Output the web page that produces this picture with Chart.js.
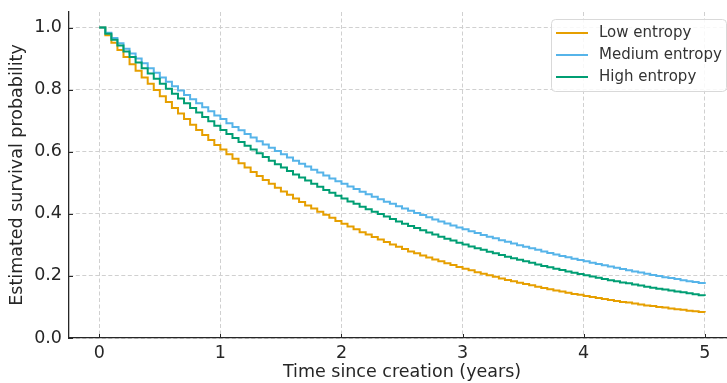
<!DOCTYPE html>
<html>
<head>
<meta charset="utf-8">
<script src="https://cdn.jsdelivr.net/npm/chart.js@4/dist/chart.umd.min.js"></script>
<style>
  html, body { margin: 0; padding: 0; background: #fff; overflow: hidden; }
  #wrap { width: 745px; height: 383px; }
</style>
</head>
<body>
<div id="wrap"><canvas id="chart" width="745" height="383"></canvas></div>
<script>
// time points (years), one step every 0.05
const times = [0,0.05,0.1,0.15,0.2,0.25,0.3,0.35,0.4,0.45,
  0.5,0.55,0.6,0.65,0.7,0.75,0.8,0.85,0.9,0.95,
  1,1.05,1.1,1.15,1.2,1.25,1.3,1.35,1.4,1.45,
  1.5,1.55,1.6,1.65,1.7,1.75,1.8,1.85,1.9,1.95,
  2,2.05,2.1,2.15,2.2,2.25,2.3,2.35,2.4,2.45,
  2.5,2.55,2.6,2.65,2.7,2.75,2.8,2.85,2.9,2.95,
  3,3.05,3.1,3.15,3.2,3.25,3.3,3.35,3.4,3.45,
  3.5,3.55,3.6,3.65,3.7,3.75,3.8,3.85,3.9,3.95,
  4,4.05,4.1,4.15,4.2,4.25,4.3,4.35,4.4,4.45,
  4.5,4.55,4.6,4.65,4.7,4.75,4.8,4.85,4.9,4.95,
  5];

const lowEntropy = [1.000,0.975,0.951,0.928,0.905,0.882,0.861,0.839,0.819,0.799,
  0.779,0.760,0.741,0.723,0.705,0.687,0.670,0.654,0.638,0.622,
  0.607,0.592,0.577,0.563,0.549,0.535,0.522,0.509,0.497,0.484,
  0.472,0.461,0.449,0.438,0.427,0.417,0.407,0.397,0.387,0.377,
  0.368,0.359,0.350,0.341,0.333,0.325,0.317,0.309,0.301,0.294,
  0.287,0.279,0.273,0.266,0.259,0.253,0.247,0.241,0.235,0.229,
  0.223,0.218,0.212,0.207,0.202,0.197,0.192,0.187,0.183,0.178,
  0.174,0.170,0.165,0.161,0.157,0.153,0.150,0.146,0.142,0.139,
  0.135,0.132,0.129,0.126,0.122,0.119,0.116,0.114,0.111,0.108,
  0.105,0.103,0.100,0.098,0.095,0.093,0.091,0.088,0.086,0.084,
  0.082];

const mediumEntropy = [1.000,0.983,0.966,0.949,0.932,0.916,0.900,0.885,0.869,0.854,
  0.839,0.825,0.811,0.797,0.783,0.769,0.756,0.743,0.730,0.717,
  0.705,0.692,0.680,0.669,0.657,0.646,0.634,0.623,0.613,0.602,
  0.592,0.581,0.571,0.561,0.552,0.542,0.533,0.523,0.514,0.505,
  0.497,0.488,0.480,0.471,0.463,0.455,0.447,0.439,0.432,0.424,
  0.417,0.410,0.403,0.396,0.389,0.382,0.375,0.369,0.362,0.356,
  0.350,0.344,0.338,0.332,0.326,0.321,0.315,0.310,0.304,0.299,
  0.294,0.289,0.284,0.279,0.274,0.269,0.264,0.260,0.255,0.251,
  0.247,0.242,0.238,0.234,0.230,0.226,0.222,0.218,0.214,0.211,
  0.207,0.203,0.200,0.196,0.193,0.190,0.186,0.183,0.180,0.177,
  0.174];

const highEntropy = [1.000,0.980,0.961,0.942,0.923,0.905,0.887,0.869,0.852,0.835,
  0.819,0.803,0.787,0.771,0.756,0.741,0.726,0.712,0.698,0.684,
  0.670,0.657,0.644,0.631,0.619,0.607,0.595,0.583,0.571,0.560,
  0.549,0.538,0.527,0.517,0.507,0.497,0.487,0.477,0.468,0.458,
  0.449,0.440,0.432,0.423,0.415,0.407,0.399,0.391,0.383,0.375,
  0.368,0.361,0.354,0.347,0.340,0.333,0.326,0.320,0.314,0.307,
  0.301,0.295,0.289,0.284,0.278,0.273,0.267,0.262,0.257,0.252,
  0.247,0.242,0.237,0.232,0.228,0.223,0.219,0.214,0.210,0.206,
  0.202,0.198,0.194,0.190,0.186,0.183,0.179,0.176,0.172,0.169,
  0.165,0.162,0.159,0.156,0.153,0.150,0.147,0.144,0.141,0.138,
  0.135];

const seriesNames = ['Low entropy', 'Medium entropy', 'High entropy'];
const xTicks = [0, 1, 2, 3, 4, 5];
const yTicks = [0, 0.2, 0.4, 0.6, 0.8, 1.0];

const colors = ['#E69F00', '#56B4E9', '#009E73'];
const textColor = '#262626';
const fontFamily = '"DejaVu Sans", sans-serif';

function toPoints(values) {
    return values.map((v, i) => ({x: times[i], y: v}));
}

function makeDataset(i, values) {
    return {
        label: seriesNames[i],
        data: toPoints(values),
        borderColor: colors[i],
        backgroundColor: colors[i],
        borderWidth: 2,
        pointRadius: 0,
        stepped: 'before',   // hold the value until the next time point
        fill: false,
        order: 2 - i         // later series drawn on top, like the original
    };
}

// small inward tick marks plus the boxed legend in the top right
const decorations = {
    id: 'decorations',
    afterDraw(chart) {
        const ctx = chart.ctx;
        const area = chart.chartArea;
        const xs = chart.scales.x, ys = chart.scales.y;
        ctx.save();
        ctx.strokeStyle = textColor;
        ctx.lineWidth = 1;
        ctx.beginPath();
        xTicks.forEach(v => {
            const px = Math.round(xs.getPixelForValue(v)) + 0.5;
            ctx.moveTo(px, area.bottom);
            ctx.lineTo(px, area.bottom - 4);
        });
        yTicks.forEach(v => {
            const py = Math.round(ys.getPixelForValue(v)) + 0.5;
            ctx.moveTo(area.left, py);
            ctx.lineTo(area.left + 4, py);
        });
        ctx.stroke();

        // legend box
        const bx = 551.5, by = 19.5, bw = 175, bh = 72;
        ctx.beginPath();
        ctx.roundRect(bx, by, bw, bh, 4);
        ctx.fillStyle = 'rgba(255,255,255,0.85)';
        ctx.fill();
        ctx.strokeStyle = '#d9d9d9';
        ctx.stroke();

        ctx.font = '15px ' + fontFamily;
        ctx.textBaseline = 'middle';
        ctx.textAlign = 'left';
        seriesNames.forEach((name, i) => {
            const ry = 33 + i * 22;
            ctx.strokeStyle = colors[i];
            ctx.lineWidth = 2;
            ctx.beginPath();
            ctx.moveTo(556, ry);
            ctx.lineTo(588, ry);
            ctx.stroke();
            ctx.fillStyle = '#333';
            ctx.fillText(name, 599, ry);
        });
        ctx.restore();
    }
};

const gridStyle = {
    color: '#d0d0d0',
    lineWidth: 1,
    drawTicks: false
};

new Chart(document.getElementById('chart').getContext('2d'), {
    type: 'line',
    data: {
        datasets: [
            makeDataset(0, lowEntropy),
            makeDataset(1, mediumEntropy),
            makeDataset(2, highEntropy)
        ]
    },
    options: {
        responsive: false,
        animation: false,
        devicePixelRatio: 1,
        layout: {padding: {top: 12, right: 10, left: 0, bottom: 0}},
        plugins: {
            legend: {display: false},
            tooltip: {enabled: false}
        },
        scales: {
            x: {
                type: 'linear',
                min: -0.25,
                max: 5.25,
                afterBuildTicks: s => { s.ticks = xTicks.map(v => ({value: v})); },
                afterFit: s => { s.height = 45; s.paddingLeft = 0; s.paddingRight = 0; },
                grid: gridStyle,
                border: {display: true, color: textColor, width: 1.3, dash: [4, 2.5]},
                ticks: {
                    color: textColor,
                    font: {family: fontFamily, size: 17.5},
                    padding: 5,
                    maxRotation: 0,
                    callback: v => String(v)
                },
                title: {
                    display: true,
                    text: 'Time since creation (years)',
                    color: textColor,
                    font: {family: fontFamily, size: 17.5},
                    padding: {top: 0, bottom: 0}
                }
            },
            y: {
                min: 0,
                max: 1.05,
                afterBuildTicks: s => { s.ticks = yTicks.map(v => ({value: v})); },
                afterFit: s => { s.width = 69; s.paddingTop = 0; s.paddingBottom = 0; },
                grid: gridStyle,
                border: {display: true, color: textColor, width: 1.3, dash: [4, 2.5]},
                ticks: {
                    color: textColor,
                    font: {family: fontFamily, size: 17.5},
                    padding: 7,
                    callback: v => v.toFixed(1)
                },
                title: {
                    display: true,
                    text: 'Estimated survival probability',
                    color: textColor,
                    font: {family: fontFamily, size: 17.5},
                    padding: {top: 7, bottom: 0}
                }
            }
        }
    },
    plugins: [decorations]
});
</script>
</body>
</html>
